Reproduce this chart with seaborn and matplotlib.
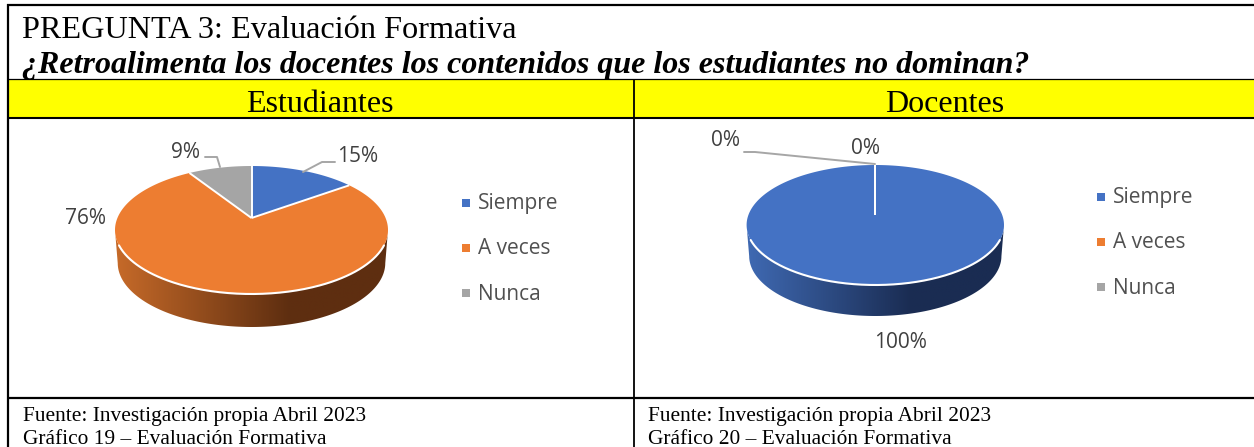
import numpy as np
import matplotlib
matplotlib.use('Agg')
import matplotlib.pyplot as plt
from matplotlib.patches import Polygon
import seaborn as sns

categories = ['Siempre', 'A veces', 'Nunca']
estudiantes = [15, 76, 9]
docentes = [100, 0, 0]
colors = ['#4472C4', '#ED7D31', '#A5A5A5']
dark_sides = {0: ('#3F69B2', '#1A2C52'), 1: ('#C66A29', '#5E2E10')}
W, H = 1254, 447

sns.set_theme(style='white')
plt.rcParams['font.family'] = ['Liberation Serif', 'DejaVu Sans']
plt.rcParams['text.color'] = 'black'

fig = plt.figure(figsize=(W / 100, H / 100), dpi=100)
ax = fig.add_axes([0, 0, 1, 1])
ax.set_xlim(0, W)
ax.set_ylim(H, 0)
ax.axis('off')


# circle -> screen with a bit of perspective, apex is where the centre lands
def projector(cx, apex, top, bottom, half):
    k = -(bottom - apex - (apex - top)) / (bottom - top)
    a = (bottom - apex) * (1 + k)
    b = half * np.sqrt(1 - k ** 2)

    def project(theta):
        u, v = np.sin(theta), -np.cos(theta)
        d = 1 + k * v
        return cx + b * u / d, apex + a * v / d
    return project


def draw_pie(values, cx, apex, top, bottom, half, depth):
    project = projector(cx, apex, top, bottom, half)
    mid = (top + bottom) / 2

    # side of the disc, gradient clipped to it
    t = np.linspace(0, 2 * np.pi, 600)
    x, y = project(t)
    front = (t > np.pi / 2) & (t < 3 * np.pi / 2) & (y >= mid)
    xb, yb = x[front], y[front]
    xlow = cx + (xb - cx) * 0.98
    ylow = yb + depth
    side = np.column_stack([np.r_[xb, xlow[::-1]], np.r_[yb, ylow[::-1]]])
    big = int(np.argmax(values))
    cmap = matplotlib.colors.LinearSegmentedColormap.from_list('side', dark_sides[big])
    ramp = np.clip(np.linspace(0, 1.56, 256), 0, 1).reshape(1, -1)
    im = ax.imshow(ramp, cmap=cmap, vmin=0, vmax=1, aspect='auto', zorder=2,
                   extent=[cx - half, cx + half, bottom + depth + 2, top])
    clip = Polygon(side, closed=True, transform=ax.transData, fc='none', ec='none')
    ax.add_patch(clip)
    im.set_clip_path(clip)
    ax.set_xlim(0, W)
    ax.set_ylim(H, 0)

    # top face
    start = 0
    total = sum(values)
    for v, c in zip(values, colors):
        end = start + v / total * 2 * np.pi
        th = np.linspace(start, end, 200)
        px, py = project(th)
        pts = np.column_stack([np.r_[cx, px], np.r_[apex, py]])
        ax.add_patch(Polygon(pts, closed=True, fc=c, ec='none', zorder=3))
        start = end
    # white separators and rim
    start = 0
    for v in values:
        px, py = project(np.array([start]))
        ax.plot([cx, px[0]], [apex, py[0]], color='white', lw=1.4, zorder=4,
                solid_capstyle='butt')
        start += v / total * 2 * np.pi
    rim = yb >= mid + 15
    ax.plot(xb[rim], yb[rim], color='white', lw=1.5, zorder=4)


def draw_legend(x, ys):
    sns.scatterplot(x=[x] * 3, y=ys, hue=categories, palette=colors, marker='s',
                    s=36, linewidth=0, legend=False, ax=ax, zorder=5)
    for cat, yy in zip(categories, ys):
        ax.text(x + 12, yy + 1, cat, fontsize=15, color='#505050', va='center',
                family='Open Sans')


def label(x, y, s):
    ax.text(x, y + 1, s, fontsize=15, color='#404040', ha='center', va='center',
            family='Open Sans')


def leader(xs, ys):
    ax.plot(xs, ys, color='#A6A6A6', lw=1.4, zorder=5)


# table
ax.axhspan(79, 117, xmin=8 / W, xmax=1, color='#FFFF00', lw=0, zorder=0)
line = dict(color='black', zorder=6, solid_capstyle='butt')
ax.plot([7.5, 7.5], [4, H], lw=1.6, **line)
ax.plot([7, W], [5, 5], lw=1.6, **line)
ax.plot([7, W], [79, 79], lw=0.9, **line)
ax.plot([7, W], [117.5, 117.5], lw=1.5, **line)
ax.plot([7, W], [398, 398], lw=1.6, **line)
ax.plot([634, 634], [79, H], lw=1.3, **line)

ax.text(22, 30, 'PREGUNTA 3: Evaluación Formativa', fontsize=23.2, va='center')
ax.text(22, 65, '¿Retroalimenta los docentes los contenidos que los estudiantes no dominan?',
        fontsize=23, style='italic', weight='bold', va='center')
ax.text(320, 104, 'Estudiantes', fontsize=23, ha='center', va='center')
ax.text(945, 104, 'Docentes', fontsize=23, ha='center', va='center')
for x, n in [(23, 19), (648, 20)]:
    ax.text(x, 416, 'Fuente: Investigación propia Abril 2023', fontsize=15.4, va='center')
    ax.text(x, 439, f'Gráfico {n} – Evaluación Formativa', fontsize=15.4, va='center')

# pies
draw_pie(estudiantes, 251.5, 218, 166, 294, 136.5, 33)
draw_pie(docentes, 875.3, 215, 165, 285, 128.7, 31)

leader([303, 322, 335], [172, 162, 162])
leader([220, 217, 205], [167, 157, 157])
leader([875, 755, 744], [164, 152, 152])

for v, (x, y) in zip(estudiantes, [(358, 156), (85, 218), (185, 151)]):
    label(x, y, f'{v}%')
for v, (x, y) in zip(docentes, [(901, 341), (865, 148), (726, 139)]):
    label(x, y, f'{v}%')

draw_legend(466, [203, 248, 293])
draw_legend(1101, [197, 242, 287])

fig.savefig('out.png', dpi=100)
